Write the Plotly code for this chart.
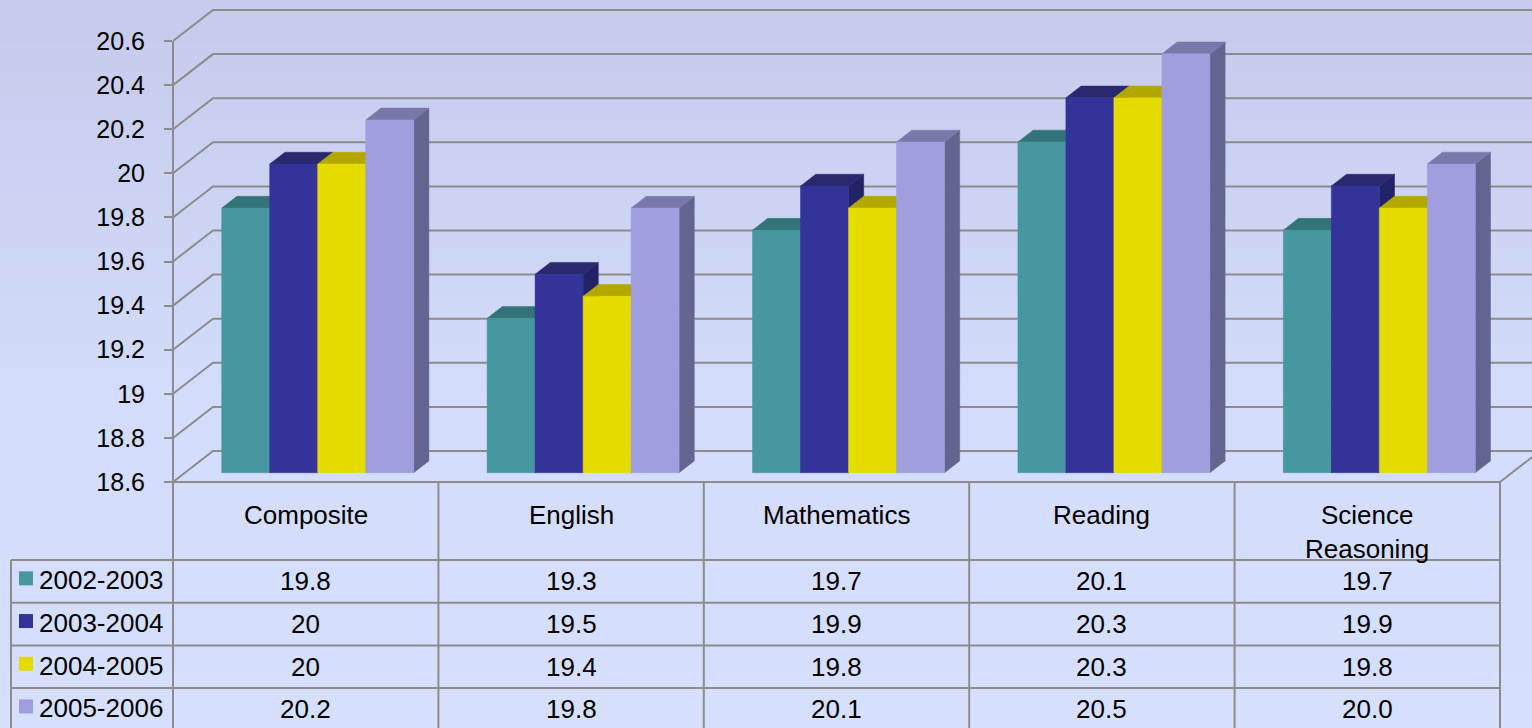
import plotly.graph_objects as go

# ---------------- data ----------------
categories = ["Composite", "English", "Mathematics", "Reading", "Science Reasoning"]
series_names = ["2002-2003", "2003-2004", "2004-2005", "2005-2006"]
v_2002_2003 = [19.8, 19.3, 19.7, 20.1, 19.7]
v_2003_2004 = [20, 19.5, 19.9, 20.3, 19.9]
v_2004_2005 = [20, 19.4, 19.8, 20.3, 19.8]
v_2005_2006 = [20.2, 19.8, 20.1, 20.5, 20.0]
y_tick_values = [18.6, 18.8, 19.0, 19.2, 19.4, 19.6, 19.8, 20.0, 20.2, 20.4, 20.6]
y_tick_labels = ["18.6", "18.8", "19", "19.2", "19.4", "19.6", "19.8", "20", "20.2", "20.4", "20.6"]

series_values = [v_2002_2003, v_2003_2004, v_2004_2005, v_2005_2006]

# ---------------- style ----------------
front_colors = ["#4797A0", "#333399", "#E5DB00", "#A09EDE"]
top_colors = ["#337479", "#29296F", "#B2A800", "#7878AA"]
side_colors = ["#2C666C", "#222266", "#9A9200", "#646490"]
GRID = "#8C8C8C"
FONT = "Liberation Sans, Arial, sans-serif"
FS_TICK = 25
FS_TABLE = 26

W, H = 1532, 728
AX_X = 173          # pixel x of the front value axis
CAT_PX = 265.4      # pixel width of one category
FLOOR_PX = 482      # pixel y of the front floor edge
UNIT_PX = 220.5     # pixels per value unit
DEPTH_PX = (40, 31)
BAR_PX = 48
BAR_FRONT, BAR_BACK = 0.30, 0.68

ymin, ymax = y_tick_values[0], y_tick_values[-1]
n_cat = len(categories)
n_ser = len(series_values)

xr = [0, (W - AX_X) / CAT_PX]
yr = [ymin - (H - FLOOR_PX) / UNIT_PX, ymin + FLOOR_PX / UNIT_PX]
DX = DEPTH_PX[0] / CAT_PX
DY = DEPTH_PX[1] / UNIT_PX
bw = BAR_PX / CAT_PX
gap = (1 - n_ser * bw) / 2


def pxx(p):
    return p / W


def pxy(p):
    return 1 - p / H


def cat_px(x):
    return AX_X + x * CAT_PX


fig = go.Figure()

# back wall gridlines with left-wall diagonals
gx, gy = [], []
for v in y_tick_values:
    gx += [0, DX, xr[1], None]
    gy += [v, v + DY, v + DY, None]
# floor right edge diagonal
gx += [n_cat, n_cat + DX, None]
gy += [ymin, ymin + DY, None]
fig.add_trace(go.Scatter(x=gx, y=gy, mode="lines", line=dict(color=GRID, width=2),
                         hoverinfo="skip", showlegend=False))

# 3D bars: side, top, front faces per series
sx0, sy0 = BAR_FRONT * DX, BAR_FRONT * DY
sx1, sy1 = BAR_BACK * DX, BAR_BACK * DY
for s, vals in enumerate(series_values):
    side_x, side_y, top_x, top_y, fr_x, fr_y = [], [], [], [], [], []
    for i, v in enumerate(vals):
        xl = i + gap + s * bw
        xrt = xl + bw
        side_x += [xrt + sx0, xrt + sx0, xrt + sx1, xrt + sx1, xrt + sx0, None]
        side_y += [ymin + sy0, v + sy0, v + sy1, ymin + sy1, ymin + sy0, None]
        top_x += [xl + sx0, xrt + sx0, xrt + sx1, xl + sx1, xl + sx0, None]
        top_y += [v + sy0, v + sy0, v + sy1, v + sy1, v + sy0, None]
        fr_x += [xl + sx0, xrt + sx0, xrt + sx0, xl + sx0, xl + sx0, None]
        fr_y += [ymin + sy0, ymin + sy0, v + sy0, v + sy0, ymin + sy0, None]
    for fx, fy, col in [(side_x, side_y, side_colors[s]), (top_x, top_y, top_colors[s]),
                        (fr_x, fr_y, front_colors[s])]:
        fig.add_trace(go.Scatter(x=fx, y=fy, mode="lines", fill="toself", fillcolor=col,
                                 line=dict(color=col, width=0.5), hoverinfo="skip",
                                 showlegend=False, name=series_names[s]))

shapes = []
# background gradient
N = 80


def bg(t):
    stops = [(0.0, (198, 202, 236)), (0.55, (211, 220, 250)), (1.0, (214, 224, 253))]
    for (t0, c0), (t1, c1) in zip(stops[:-1], stops[1:]):
        if t0 <= t <= t1:
            f = (t - t0) / (t1 - t0)
            return "rgb(%d,%d,%d)" % tuple(round(a + (b - a) * f) for a, b in zip(c0, c1))
    return "rgb(214,224,253)"


for k in range(N):
    shapes.append(dict(type="rect", xref="paper", yref="paper", x0=0, x1=1,
                       y0=1 - (k + 1) / N, y1=1 - k / N + 0.002, layer="below",
                       line=dict(width=0), fillcolor=bg((k + 0.5) / N)))

line = dict(color=GRID, width=2)
# front value axis line (continues down as table border)
shapes.append(dict(type="line", xref="paper", yref="paper", x0=pxx(AX_X), x1=pxx(AX_X),
                   y0=pxy(FLOOR_PX - (ymax - ymin) * UNIT_PX), y1=0, line=line))

# table
LEG_L = 11
HEADER_B = 560
ROW_H = 42.7
row_lines = [HEADER_B + k * ROW_H for k in range(n_ser + 1)]
shapes.append(dict(type="line", xref="paper", yref="paper", x0=pxx(AX_X), x1=pxx(cat_px(n_cat)),
                   y0=pxy(FLOOR_PX), y1=pxy(FLOOR_PX), line=line))
for yl in row_lines:
    shapes.append(dict(type="line", xref="paper", yref="paper", x0=pxx(LEG_L), x1=pxx(cat_px(n_cat)),
                       y0=pxy(yl), y1=pxy(yl), line=line))
for i in range(1, n_cat + 1):
    shapes.append(dict(type="line", xref="paper", yref="paper", x0=pxx(cat_px(i)), x1=pxx(cat_px(i)),
                       y0=pxy(FLOOR_PX), y1=0, line=line))
shapes.append(dict(type="line", xref="paper", yref="paper", x0=pxx(LEG_L), x1=pxx(LEG_L),
                   y0=pxy(HEADER_B), y1=0, line=line))

annotations = []
for i, c in enumerate(categories):
    label = c.replace(" ", "<br>") if len(c) > 12 else c
    annotations.append(dict(xref="paper", yref="paper", x=pxx(cat_px(i + 0.5)), y=pxy(498),
                            text=label, showarrow=False, xanchor="center", yanchor="top",
                            font=dict(family=FONT, size=FS_TABLE, color="black")))
for s, vals in enumerate(series_values):
    yc = row_lines[s] + ROW_H / 2
    for i, v in enumerate(vals):
        annotations.append(dict(xref="paper", yref="paper", x=pxx(cat_px(i + 0.5)), y=pxy(yc),
                                text=str(v), showarrow=False, xanchor="center", yanchor="middle",
                                font=dict(family=FONT, size=FS_TABLE, color="black")))
    annotations.append(dict(xref="paper", yref="paper", x=pxx(37), y=pxy(yc - 1),
                            text=series_names[s], showarrow=False, xanchor="left", yanchor="middle",
                            font=dict(family=FONT, size=FS_TABLE, color="black")))
    shapes.append(dict(type="rect", xref="paper", yref="paper", x0=pxx(19), x1=pxx(33),
                       y0=pxy(yc - 10), y1=pxy(yc + 4), line=dict(width=0),
                       fillcolor=front_colors[s]))

fig.update_layout(
    width=W, height=H, margin=dict(l=0, r=0, t=0, b=0),
    paper_bgcolor="rgba(0,0,0,0)", plot_bgcolor="rgba(0,0,0,0)",
    showlegend=False, shapes=shapes, annotations=annotations,
    xaxis=dict(domain=[AX_X / W, 1], range=xr, visible=False, fixedrange=True),
    yaxis=dict(domain=[0, 1], range=yr, tickmode="array", tickvals=y_tick_values,
               ticktext=y_tick_labels, ticks="outside", ticklen=8, tickwidth=2, tickcolor=GRID,
               showgrid=False, zeroline=False, showline=False, ticklabelstandoff=14,
               tickfont=dict(family=FONT, size=FS_TICK, color="black"), fixedrange=True),
)

fig.write_html("out.html", config={"displayModeBar": False},
               post_script="document.body.style.margin='0';document.body.style.overflow='hidden';")
